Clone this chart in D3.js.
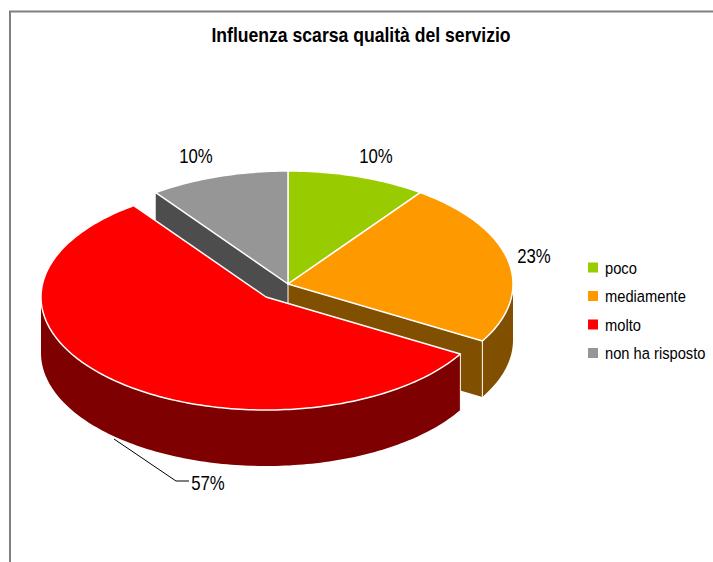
<!DOCTYPE html>
<html>
<head>
<meta charset="utf-8">
<script src="https://cdn.jsdelivr.net/npm/d3@7"></script>
<style>
html, body { margin: 0; padding: 0; background: #fff; overflow: hidden; }
svg { display: block; font-family: "Liberation Sans", Arial, sans-serif; }
</style>
</head>
<body>
<div id="main"></div>
<script>
const categories = ["poco", "mediamente", "molto", "non ha risposto"];
const values = [10, 23.4, 56.6, 10];
const labels = ["10%", "23%", "57%", "10%"];
const topColors = ["#99cc00", "#ff9900", "#ff0000", "#969696"];
const sideColors = ["#4d6600", "#804f00", "#7f0000", "#4d4d4d"];

const chartW = 713, chartH = 562;
const rx = 225, ry = 113, depth = 56;
const center = {x: 288, y: 284};
const explode = {x: -22, y: 13}; // only the "molto" slice is pulled out

let svg = d3.select("#main").append("svg")
    .attr("width", chartW)
    .attr("height", chartH);

// the original font is narrow and tall, so squeeze it horizontally
function squeeze(x, y, k) {
    return "translate(" + x + "," + y + ") scale(" + k + ",1)";
}

// frame
svg.append("path")
    .attr("d", "M10,562V11.5H713")
    .attr("fill", "none")
    .attr("stroke", "#808080")
    .attr("stroke-width", 2);

svg.append("text")
    .attr("transform", squeeze(361, 42, 0.88))
    .attr("text-anchor", "middle")
    .attr("font-size", 20)
    .attr("font-weight", "bold")
    .text("Influenza scarsa qualità del servizio");

let slices = d3.pie().sort(null)(values);
let line = d3.line();

function pt(c, a, dy) {
    return [c.x + rx * Math.sin(a), c.y - ry * Math.cos(a) + (dy || 0)];
}

function arcPoints(c, a0, a1, dy) {
    let n = Math.max(2, Math.ceil(Math.abs(a1 - a0) / 0.02));
    return d3.range(n + 1).map(function (i) {
        return pt(c, a0 + (a1 - a0) * i / n, dy);
    });
}

function topPath(c, s) {
    return line([[c.x, c.y]].concat(arcPoints(c, s.startAngle, s.endAngle))) + "Z";
}

// outer wall, only the front half of the ellipse can be seen
function outerWall(c, s) {
    let a0 = Math.max(s.startAngle, Math.PI / 2);
    let a1 = Math.min(s.endAngle, Math.PI * 1.5);
    if (a1 <= a0) return null;
    return line(arcPoints(c, a0, a1).concat(arcPoints(c, a1, a0, depth))) + "Z";
}

function cutWall(c, a) {
    let p = pt(c, a);
    return line([[c.x, c.y], p, [p[0], p[1] + depth], [c.x, c.y + depth]]) + "Z";
}

let pie = svg.append("g");

function wall(d, i) {
    if (d) pie.append("path").attr("d", d).attr("fill", sideColors[i]);
}

function vertical(p) {
    pie.append("line")
        .attr("x1", p[0]).attr("y1", p[1])
        .attr("x2", p[0]).attr("y2", p[1] + depth)
        .attr("stroke", "#fff")
        .attr("stroke-width", 1);
}

function sliceTop(c, s, i) {
    pie.append("path")
        .attr("d", topPath(c, s))
        .attr("fill", topColors[i])
        .attr("stroke", "#fff")
        .attr("stroke-width", 1.5)
        .attr("stroke-linejoin", "round");
}

// back to front: hollow left by the red slice first, red slice last
wall(cutWall(center, slices[3].startAngle), 3);
wall(cutWall(center, slices[1].endAngle), 1);
wall(outerWall(center, slices[1]), 1);
vertical([center.x, center.y]);
vertical(pt(center, slices[1].endAngle));

sliceTop(center, slices[0], 0);
sliceTop(center, slices[1], 1);
sliceTop(center, slices[3], 3);

let redCenter = {x: center.x + explode.x, y: center.y + explode.y};
wall(outerWall(redCenter, slices[2]), 2);
vertical(pt(redCenter, slices[2].startAngle));
sliceTop(redCenter, slices[2], 2);

// leader line of the 57% label
svg.append("path")
    .attr("d", line([[114, 439], [176, 481], [189, 481]]))
    .attr("fill", "none")
    .attr("stroke", "#000")
    .attr("stroke-width", 1);

const labelPos = [[376, 156], [534, 256], [208, 483], [196, 156]];
svg.append("g").selectAll("text")
    .data(labels)
    .join("text")
    .attr("transform", function (d, i) { return squeeze(labelPos[i][0], labelPos[i][1], 0.84); })
    .attr("dy", "0.36em")
    .attr("text-anchor", "middle")
    .attr("font-size", 20)
    .text(function (d) { return d; });

// legend
let legendY = d3.scalePoint().domain(categories).range([267.5, 353]);
let legend = svg.append("g").selectAll("g")
    .data(categories)
    .join("g")
    .attr("transform", function (d) { return "translate(0," + legendY(d) + ")"; });

legend.append("rect")
    .attr("x", 588).attr("y", -5)
    .attr("width", 10).attr("height", 10)
    .attr("fill", function (d, i) { return topColors[i]; });

legend.append("text")
    .attr("transform", squeeze(605, 0, 0.865))
    .attr("dy", "0.36em")
    .attr("font-size", 17)
    .text(function (d) { return d; });
</script>
</body>
</html>
